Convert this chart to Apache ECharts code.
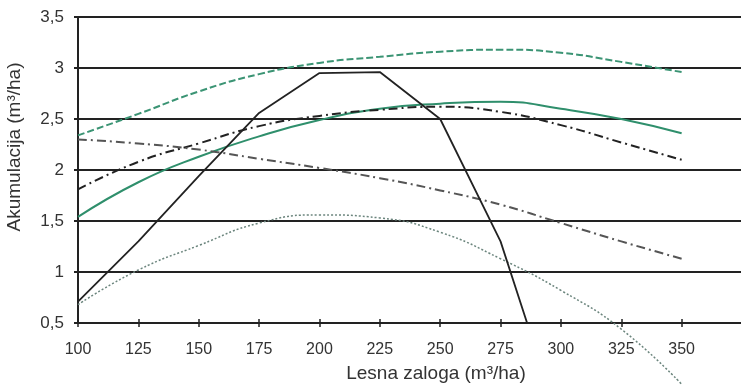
<!DOCTYPE html>
<html>
<head>
<meta charset="utf-8">
<style>
  html, body { margin: 0; padding: 0; background: #fff; }
  #chart { width: 741px; height: 385px; }
</style>
<script src="https://cdn.jsdelivr.net/npm/echarts@6.0.0/dist/echarts.min.js"></script>
</head>
<body>
<div id="chart"></div>
<script>
// lesna zaloga (m3/ha) - x values
const xValues = [100, 125, 150, 175, 200, 225, 250, 275, 300, 325, 350]
const yTicks = [0.5, 1, 1.5, 2, 2.5, 3, 3.5]

// curves
const greenDashed = [2.34, 2.55, 2.77, 2.94, 3.05, 3.11, 3.16, 3.18, 3.15, 3.06, 2.96]
const greenSolid = [1.54, 1.88, 2.13, 2.33, 2.49, 2.60, 2.65, 2.67, 2.60, 2.50, 2.36]
const riseDashDot = [1.81, 2.08, 2.26, 2.43, 2.53, 2.59, 2.62, 2.57, 2.44, 2.27, 2.10]
const fallDashDot = [2.30, 2.26, 2.20, 2.11, 2.02, 1.92, 1.80, 1.66, 1.48, 1.30, 1.13]
const dotted = [0.68, 1.02, 1.26, 1.48, 1.56, 1.53, 1.39, 1.13, 0.82, 0.44, -0.10]

// black polyline has its own x points (ends on the axis)
const blackX = [100, 125, 150, 175, 200, 225, 250, 275, 286]
const blackY = [0.71, 1.30, 1.94, 2.56, 2.95, 2.96, 2.50, 1.30, 0.50]

const pairs = (xs, ys) => xs.map((x, i) => [x, ys[i]])
const font = 'Liberation Sans, Arial, sans-serif'

const chart = echarts.init(document.getElementById('chart'), null, { renderer: 'canvas' })

const lineSeries = (data, color, width, type, smooth) => ({
  type: 'line',
  data: data,
  smooth: smooth,
  showSymbol: false,
  clip: false,
  lineStyle: { color: color, width: width, type: type },
  z: 3
})

const option = {
  animation: false,
  backgroundColor: '#fff',
  grid: { left: 78, top: 17, width: 664, height: 306, outerBoundsMode: 'none', containLabel: false },
  xAxis: [
    {
      type: 'value',
      min: 100,
      max: 375,
      interval: 25,
      name: 'Lesna zaloga (m³/ha)',
      nameLocation: 'middle',
      nameGap: 41,
      nameTextStyle: { fontFamily: font, fontSize: 19, color: '#333', padding: [0, 0, 0, 52] },
      axisLine: { show: true, lineStyle: { color: '#222', width: 2 } },
      axisTick: { show: true, length: 4, lineStyle: { color: '#222', width: 1.5 } },
      axisLabel: {
        fontFamily: font, fontSize: 16, color: '#333', margin: 19,
        formatter: v => (v > 350 ? '' : String(v))
      },
      splitLine: { show: false }
    },
    {
      type: 'value',
      min: 100,
      max: 375,
      interval: 25,
      position: 'bottom',
      axisLine: { show: false },
      axisTick: { show: true, inside: true, length: 4, lineStyle: { color: '#222', width: 1.5 } },
      axisLabel: { show: false },
      splitLine: { show: false }
    }
  ],
  yAxis: {
    type: 'value',
    min: yTicks[0],
    max: yTicks[yTicks.length - 1],
    interval: 0.5,
    name: 'Akumulacija (m³/ha)',
    nameLocation: 'middle',
    nameGap: 54,
    nameTextStyle: { fontFamily: font, fontSize: 19, color: '#333', padding: [0, 0, 0, 46] },
    axisLine: { show: true, lineStyle: { color: '#222', width: 2 } },
    axisTick: { show: true, length: 4, lineStyle: { color: '#222', width: 2 } },
    axisLabel: {
      fontFamily: font, fontSize: 17, color: '#333', margin: 14,
      formatter: v => String(v).replace('.', ',')
    },
    splitLine: { show: true, lineStyle: { color: '#222', width: 2 } }
  },
  series: [
    lineSeries(pairs(xValues, greenDashed), '#3b9474', 2, [7, 3], true),
    lineSeries(pairs(xValues, greenSolid), '#2f8f6c', 2, 'solid', true),
    lineSeries(pairs(xValues, riseDashDot), '#222', 2, [9, 4, 2, 4], true),
    lineSeries(pairs(xValues, fallDashDot), '#555', 2, [9, 4, 2, 4], true),
    lineSeries(pairs(xValues, dotted), '#6b857d', 1.5, [2, 2], true),
    lineSeries(pairs(blackX, blackY), '#222', 1.8, 'solid', false)
  ]
}

chart.setOption(option)
window.addEventListener('resize', () => chart.resize())
</script>
</body>
</html>
